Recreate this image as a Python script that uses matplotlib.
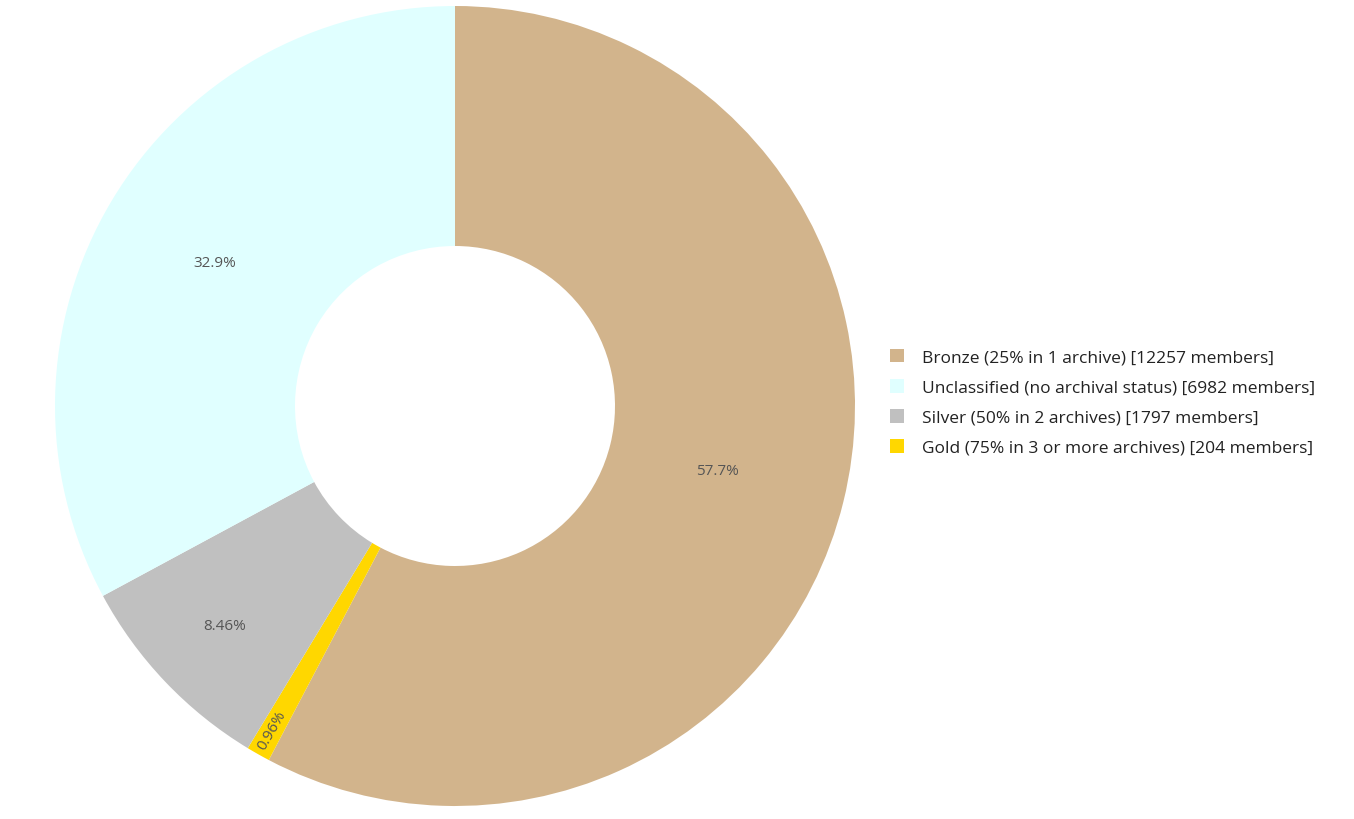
import matplotlib.pyplot as plt
import math

labels = ["Bronze (25% in 1 archive)", "Gold (75% in 3 or more archives)",
          "Silver (50% in 2 archives)", "Unclassified (no archival status)"]
members = [12257, 204, 1797, 6982]
colors = ["#D2B48C", "#FFD700", "#C0C0C0", "#E0FFFF"]
legend_order = [0, 3, 2, 1]

plt.rcParams['font.family'] = ['Open Sans', 'DejaVu Sans']

fig = plt.figure(figsize=(13.54, 8.2), dpi=100)
ax = fig.add_axes([55 / 1354, 13 / 820, 800 / 1354, 800 / 820])

wedges, texts, pcts = ax.pie(members, colors=colors, startangle=90, counterclock=False,
                             radius=1, wedgeprops=dict(width=0.6, linewidth=0),
                             autopct=lambda p: f"{p:.3g}%", pctdistance=0.7,
                             textprops=dict(color="#555555", fontsize=11))
ax.set_xlim(-1, 1)
ax.set_ylim(-1, 1)
ax.set_aspect('equal')

# label radii tuned per slice
dists = [0.675, 0.93, 0.795, 0.70]
for w, t, d in zip(wedges, pcts, dists):
    mid = math.radians((w.theta1 + w.theta2) / 2)
    t.set_position((d * math.cos(mid), d * math.sin(mid)))
# small gold slice gets radial text
pcts[1].set_rotation(60)

handles = [wedges[i] for i in legend_order]
names = [f"{labels[i]} [{members[i]} members]" for i in legend_order]
fig.legend(handles, names, loc='upper left', bbox_to_anchor=(874 / 1354, 1 - 334 / 820),
           frameon=False, fontsize=12.5, handlelength=0.85, handleheight=0.85,
           handletextpad=1.0, labelspacing=0.76, labelcolor="#222222")

fig.savefig("out.png", dpi=100, facecolor="white")
